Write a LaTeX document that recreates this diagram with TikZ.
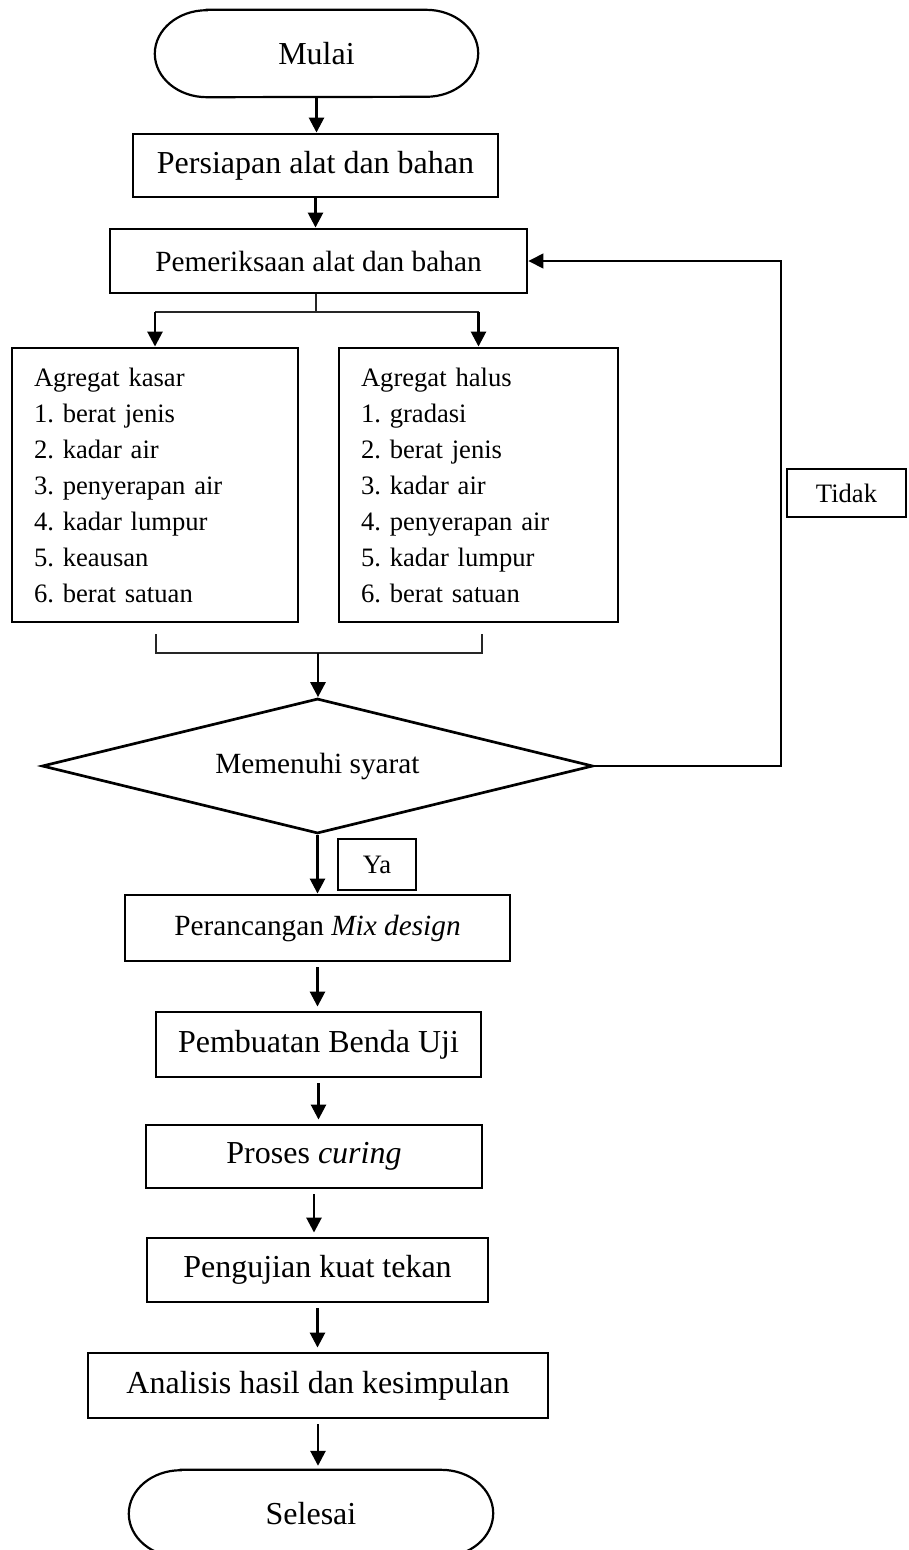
\documentclass[tikz,border=0pt]{standalone}
\usepackage{fontspec}
\setmainfont{Liberation Serif}
\frenchspacing
\usetikzlibrary{shapes.geometric,arrows.meta}
\tikzset{
  box/.style={draw, line width=2.9pt, rectangle, inner sep=0pt, align=center},
  lbl/.style={draw, line width=1.4pt, rectangle, inner sep=0pt},
  arr/.style={line width=2.7pt, -{Triangle[length=15pt,width=15pt]}},
  arrg/.style={arr, shorten <=5pt, shorten >=4pt},
  thinline/.style={line width=1.5pt, black!85},
  F32/.style={font=\fontsize{32}{38}\selectfont},
  F29/.style={font=\fontsize{29.3}{35}\selectfont},
  F26/.style={font=\fontsize{26.6}{36}\selectfont},
  term/.style={inner sep=0pt, F32},
}
\begin{document}
\begin{tikzpicture}[x=1pt,y=-1pt]
\useasboundingbox[fill=white] (0,0) rectangle (909,1550);
\clip (0,0) rectangle (909,1550);

% terminal: Mulai
\node[term, minimum width=323pt, minimum height=87pt] (mulai) at (316.5,53.5) {Mulai};
\draw[line width=2.2pt] ([xshift=52pt]mulai.north west) -- ([xshift=-52pt]mulai.north east)
  arc[start angle=90,end angle=-90,x radius=52pt,y radius=43.5pt]
  -- ([xshift=52pt]mulai.south west)
  arc[start angle=270,end angle=90,x radius=52pt,y radius=43.5pt] -- cycle;

\node[box, F32, minimum width=365pt, minimum height=63pt] (siap) at (315.5,165.5) {Persiapan alat dan bahan};
\node[box, F29, minimum width=417pt, minimum height=64pt] (periksa) at (318.5,261) {Pemeriksaan alat dan bahan};

\node[box, F26, minimum width=286pt, minimum height=274pt, text width=242pt, align=left] (kasar) at (155,485)
  {Agregat kasar\\1. berat jenis\\2. kadar air\\3. penyerapan air\\4. kadar lumpur\\5. keausan\\6. berat satuan};
\node[box, F26, minimum width=279pt, minimum height=274pt, text width=235pt, align=left] (halus) at (478.5,485)
  {Agregat halus\\1. gradasi\\2. berat jenis\\3. kadar air\\4. penyerapan air\\5. kadar lumpur\\6. berat satuan};

\node[draw, diamond, line width=2.7pt, minimum width=551pt, minimum height=135pt, inner sep=0pt, aspect=4, F29] (syarat) at (317.5,766) {Memenuhi syarat};

\node[lbl, F26, minimum width=119pt, minimum height=48pt] (tidak) at (846.5,493) {Tidak};
\node[lbl, F26, minimum width=78pt, minimum height=51pt] (ya) at (377,864.5) {Ya};

\node[box, F29, minimum width=385pt, minimum height=66pt] (rancang) at (317.5,928) {Perancangan \textit{Mix design}};
\node[box, F32, minimum width=325pt, minimum height=65pt] (buat) at (318.5,1044.5) {Pembuatan Benda Uji};
\node[box, F32, minimum width=336pt, minimum height=63pt] (curing) at (314,1156.5) {Proses \textit{curing}};
\node[box, F32, minimum width=341pt, minimum height=64pt] (uji) at (317.5,1270) {Pengujian kuat tekan};
\node[box, F32, minimum width=460pt, minimum height=65pt] (analisis) at (318,1385.5) {Analisis hasil dan kesimpulan};

% terminal: Selesai
\node[term, minimum width=364pt, minimum height=87pt] (selesai) at (311,1513.5) {Selesai};
\draw[line width=2.2pt] ([xshift=52pt]selesai.north west) -- ([xshift=-52pt]selesai.north east)
  arc[start angle=90,end angle=-90,x radius=52pt,y radius=43.5pt]
  -- ([xshift=52pt]selesai.south west)
  arc[start angle=270,end angle=90,x radius=52pt,y radius=43.5pt] -- cycle;

% connectors
\draw[arr] (mulai.south) -- (mulai.south |- siap.north);
\draw[arr] (siap.south) -- (siap.south |- periksa.north);

\coordinate (split) at (316,312);
\draw[thinline] (split |- periksa.south) -- (split);
\draw[thinline] (split -| kasar.north) -- (split -| halus.north);
\draw[arr] (split -| kasar.north) -- (kasar.north);
\draw[arr] (split -| halus.north) -- (halus.north);

\coordinate (bl) at (156,634);
\coordinate (br) at (482,634);
\coordinate (join) at (318,653);
\draw[thinline] (bl) -- (bl |- join) -- (br |- join) -- (br);
\draw[arr] (join) -- (join |- syarat.north);

\coordinate (fb) at (781,261);
\draw[line width=1.5pt, -{Triangle[length=15pt,width=15pt]}] (syarat.east) -| (fb) -- (periksa.east);

\draw[arr] (syarat.south) -- (syarat.south |- rancang.north);
\draw[arrg] (rancang.south) -- (rancang.south |- buat.north);
\draw[arrg] (buat.south) -- (buat.south |- curing.north);
\draw[arrg] (curing.south) -- (curing.south |- uji.north);
\draw[arrg] (uji.south) -- (uji.south |- analisis.north);
\draw[arrg] (analisis.south) -- (analisis.south |- selesai.north);
\end{tikzpicture}
\end{document}
